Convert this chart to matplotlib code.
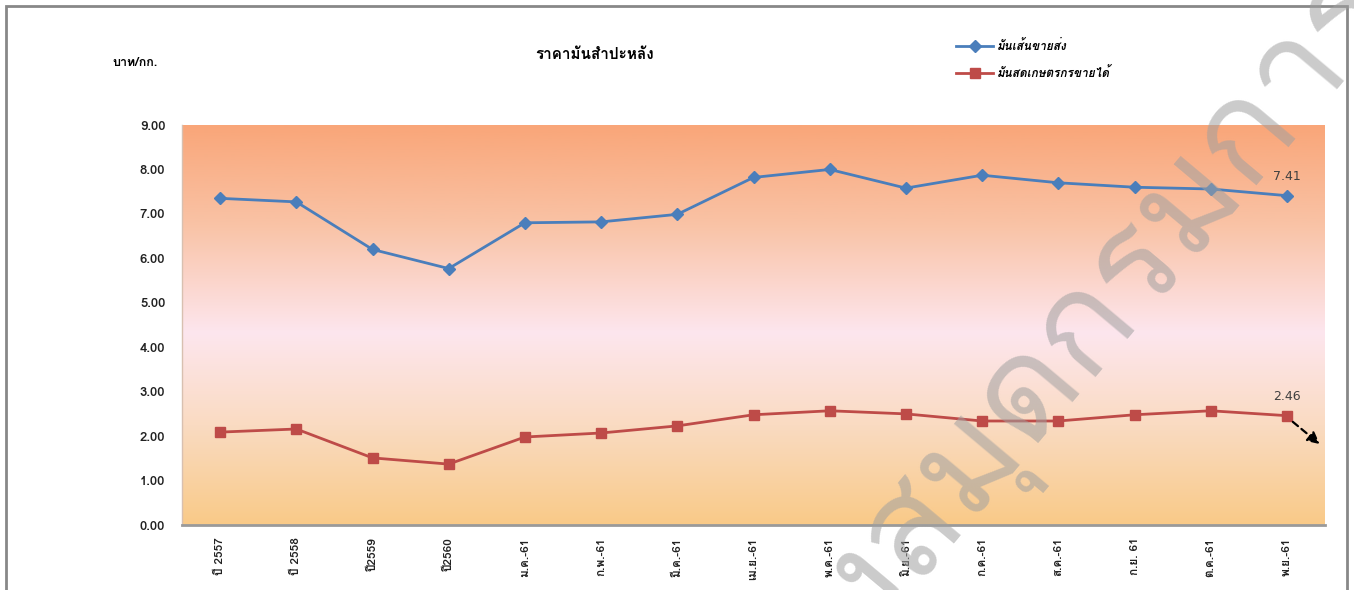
import numpy as np
import matplotlib
matplotlib.use('Agg')
import matplotlib.pyplot as plt
from matplotlib import font_manager
from matplotlib.ft2font import FT2Font
from matplotlib.colors import LinearSegmentedColormap
from matplotlib.patches import Rectangle

# === Data ===
months = ['ปี 2557', 'ปี 2558', 'ปี2559', 'ปี2560', 'ม.ค.-61', 'ก.พ.-61', 'มี.ค.-61',
          'เม.ย.-61', 'พ.ค.-61', 'มิ.ย.-61', 'ก.ค.-61', 'ส.ค.-61', 'ก.ย. 61', 'ต.ค.-61', 'พ.ย.-61']
chips_price = [7.35, 7.27, 6.20, 5.77, 6.80, 6.82, 6.99, 7.82, 8.00, 7.58, 7.87, 7.70, 7.60, 7.56, 7.41]
fresh_price = [2.09, 2.16, 1.51, 1.37, 1.98, 2.07, 2.23, 2.48, 2.57, 2.50, 2.34, 2.34, 2.48, 2.57, 2.46]
series_names = ['มันเส้นขายส่ง', 'มันสดเกษตรกรขายได้']
title = 'ราคามันสำปะหลัง'
unit = 'บาท/กก.'
yticks = [0, 1, 2, 3, 4, 5, 6, 7, 8, 9]


def find_thai_font():
    """ Pick the first installed family that has Thai glyphs """
    for f in font_manager.fontManager.ttflist:
        try:
            if ord('ก') in FT2Font(f.fname).get_charmap():
                return f.name
        except Exception:
            pass
    return 'DejaVu Sans'


thai = find_thai_font()
plt.rcParams['font.family'] = [thai, 'DejaVu Sans']

W, H = 1354, 590
fig = plt.figure(figsize=(W / 100, H / 100), dpi=100)
fig.patch.set_facecolor('white')
ax = fig.add_axes([182 / W, 1 - 525 / H, (1325 - 182) / W, 400 / H])

# background gradient (top orange -> pale pink -> light orange)
cmap = LinearSegmentedColormap.from_list('bg', [
    (0.0, '#f9ca88'), (0.25, '#fadbc2'), (0.48, '#fde6ee'),
    (0.75, '#f9c3a6'), (1.0, '#f9a679')])
grad = np.linspace(0, 1, 256).reshape(-1, 1)
ax.imshow(grad, extent=[-0.5, len(months) - 0.5, 0, 9], origin='lower',
          aspect='auto', cmap=cmap, zorder=0)

x = np.arange(len(months))
ax.plot(x, chips_price, color='#4a7ebb', lw=2, marker='D', ms=6, zorder=3,
        label=series_names[0])
ax.plot(x, fresh_price, color='#be4b48', lw=2, marker='s', ms=7, zorder=3,
        label=series_names[1])

ax.set_xlim(-0.5, len(months) - 0.5)
ax.set_ylim(0, 9)
ax.set_yticks(yticks)
ax.set_yticklabels([f'{v:.2f}' for v in yticks], fontsize=9.5, fontweight='bold', color='#222222')
ax.set_xticks(x)
ax.set_xticklabels(months, rotation=90, fontsize=8.5, fontweight='bold', color='#222222')
ax.tick_params(axis='y', length=0, pad=12)
ax.tick_params(axis='x', length=0, pad=9)
for side in ['top', 'right']:
    ax.spines[side].set_visible(False)
ax.spines['left'].set_color('#d8c0b0')
ax.spines['left'].set_linewidth(1)
ax.spines['bottom'].set_color('#9a9a9a')
ax.spines['bottom'].set_linewidth(2)

# data labels on the last points
ax.text(x[-1], chips_price[-1] + 0.28, f'{chips_price[-1]:.2f}', ha='center', va='bottom',
        fontsize=9, color='#404040', family='DejaVu Sans')
ax.text(x[-1], fresh_price[-1] + 0.28, f'{fresh_price[-1]:.2f}', ha='center', va='bottom',
        fontsize=9, color='#404040', family='DejaVu Sans')
ax.annotate('', xy=(14.46, 1.78), xytext=(14.05, 2.36),
            arrowprops=dict(arrowstyle='-|>', linestyle=(0, (3, 2)), color='black',
                            lw=1.6, mutation_scale=18), zorder=4)

fig.text(595 / W, 1 - 55 / H, title, ha='center', va='center', fontsize=11, fontweight='bold')
fig.text(135 / W, 1 - 63 / H, unit, ha='center', va='center', fontsize=9, fontweight='bold')

fig.legend(loc='upper left', bbox_to_anchor=(945 / W, 1 - 28 / H), frameon=False,
           handlelength=3.2, labelspacing=1.25, handletextpad=0.3,
           prop={'size': 8.5, 'weight': 'bold', 'style': 'italic'})

# outer border
fig.patches.append(Rectangle((6 / W, -0.02), (1347 - 6) / W, 1.02 - 6 / H, transform=fig.transFigure,
                             fill=False, edgecolor='#888888', lw=2))

# watermark
wm = dict(rotation=50, rotation_mode='anchor', va='baseline', fontsize=100,
          color='#a0a0a0', alpha=0.55, zorder=10)
fig.text(1085 / W, 1 - 380 / H, 'กรมการค้า', ha='left', **wm)
fig.text(1085 / W, 1 - 380 / H, 'ห้องสมุด', ha='right', **wm)

fig.savefig('out.png', dpi=100)
